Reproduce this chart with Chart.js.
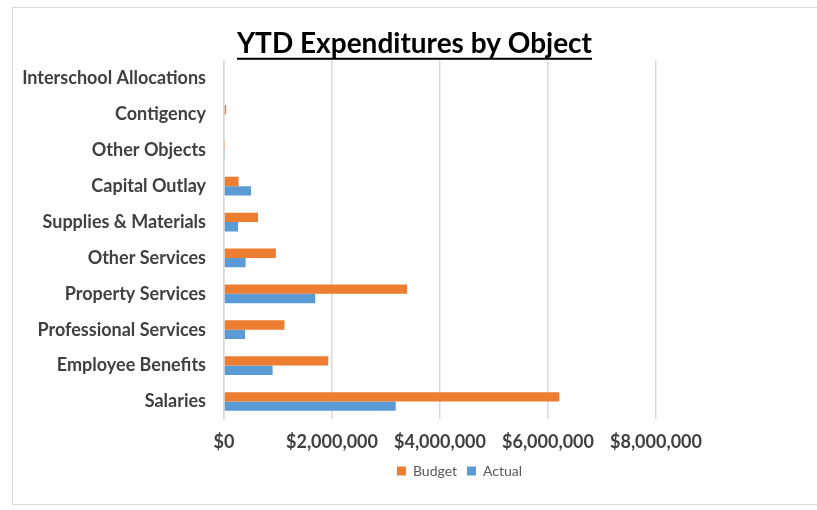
<!DOCTYPE html>
<html>
<head>
<meta charset="utf-8">
<script src="https://cdn.jsdelivr.net/npm/chart.js@4/dist/chart.umd.min.js"></script>
<style>
  body { margin: 0; background: #fff; }
  #wrap { width: 817px; height: 510px; position: relative; }
</style>
</head>
<body>
<div id="wrap"><canvas id="grafico"></canvas></div>
<script>
const categorias = [
  "Interschool Allocations",
  "Contigency",
  "Other Objects",
  "Capital Outlay",
  "Supplies & Materials",
  "Other Services",
  "Property Services",
  "Professional Services",
  "Employee Benefits",
  "Salaries"
];
const presupuesto = [0, 40000, 20000, 270000, 630000, 960000, 3390000, 1120000, 1930000, 6210000];
const actual = [0, 0, 10000, 500000, 260000, 400000, 1690000, 390000, 900000, 3180000];
const ticksX = [0, 2000000, 4000000, 6000000, 8000000];

const fuente = "Lato, 'Open Sans', sans-serif";
const gris = "#d9d9d9";

// marco gris del grafico + subrayado del titulo
const extras = {
  id: "extras",
  beforeDraw(chart) {
    const c = chart.ctx;
    c.save();
    c.strokeStyle = gris;
    c.lineWidth = 1;
    c.strokeRect(12.5, 7.5, 830, 497);
    c.restore();
  },
  afterLayout(chart) {
    chart.legend.left += 45;
    chart.legend.right += 45;
    chart.legend.top -= 11;
    chart.legend.bottom -= 11;
  },
  afterDraw(chart) {
    const t = chart.titleBlock;
    const c = chart.ctx;
    c.save();
    c.font = "bold 28px " + fuente;
    const w = c.measureText(chart.options.plugins.title.text).width;
    const cx = (t.left + t.right) / 2;
    const y = (t.top + t.bottom) / 2 + 15;
    c.strokeStyle = "#000";
    c.lineWidth = 2;
    c.beginPath();
    c.moveTo(cx - w / 2, y);
    c.lineTo(cx + w / 2, y);
    c.stroke();
    c.restore();
  }
};

const ctx = document.getElementById("grafico").getContext("2d");
new Chart(ctx, {
  type: "bar",
  data: {
    labels: categorias,
    datasets: [
      { label: "Budget", data: presupuesto, backgroundColor: "#ED7D31", categoryPercentage: 0.52, barPercentage: 1 },
      { label: "Actual", data: actual, backgroundColor: "#5B9BD5", categoryPercentage: 0.52, barPercentage: 1 }
    ]
  },
  options: {
    indexAxis: "y",
    responsive: true,
    maintainAspectRatio: false,
    animation: false,
    layout: { padding: { top: 27, left: 12, right: 0, bottom: 11 } },
    plugins: {
      title: {
        display: true,
        text: "YTD Expenditures by Object",
        color: "#000",
        font: { family: fuente, size: 28, weight: "bold" },
        padding: { top: 0, bottom: 0 }
      },
      legend: {
        position: "bottom",
        labels: {
          boxWidth: 9, boxHeight: 9, padding: 10,
          color: "#595959",
          font: { family: fuente, size: 14 }
        }
      },
      tooltip: { enabled: false }
    },
    scales: {
      x: {
        min: 0, max: 8000000,
        afterBuildTicks(s) { s.ticks = ticksX.map(v => ({ value: v })); },
        grid: { color: gris, lineWidth: 1.5, drawTicks: false },
        border: { display: false },
        ticks: {
          padding: 12,
          color: "#404040",
          font: { family: fuente, size: 18, weight: "bold" },
          callback: v => "$" + Number(v).toLocaleString("en-US")
        }
      },
      y: {
        afterFit(s) { s.width = 212; },
        grid: { display: false, drawTicks: false },
        border: { color: gris, width: 1.5 },
        ticks: {
          padding: 18,
          color: "#404040",
          font: { family: fuente, size: 18, weight: "bold" }
        }
      },
      relleno: {
        position: "right",
        type: "linear",
        afterFit(s) { s.width = 161; },
        grid: { display: false, drawTicks: false },
        border: { display: false },
        ticks: { display: false }
      }
    }
  },
  plugins: [extras]
});
</script>
</body>
</html>
